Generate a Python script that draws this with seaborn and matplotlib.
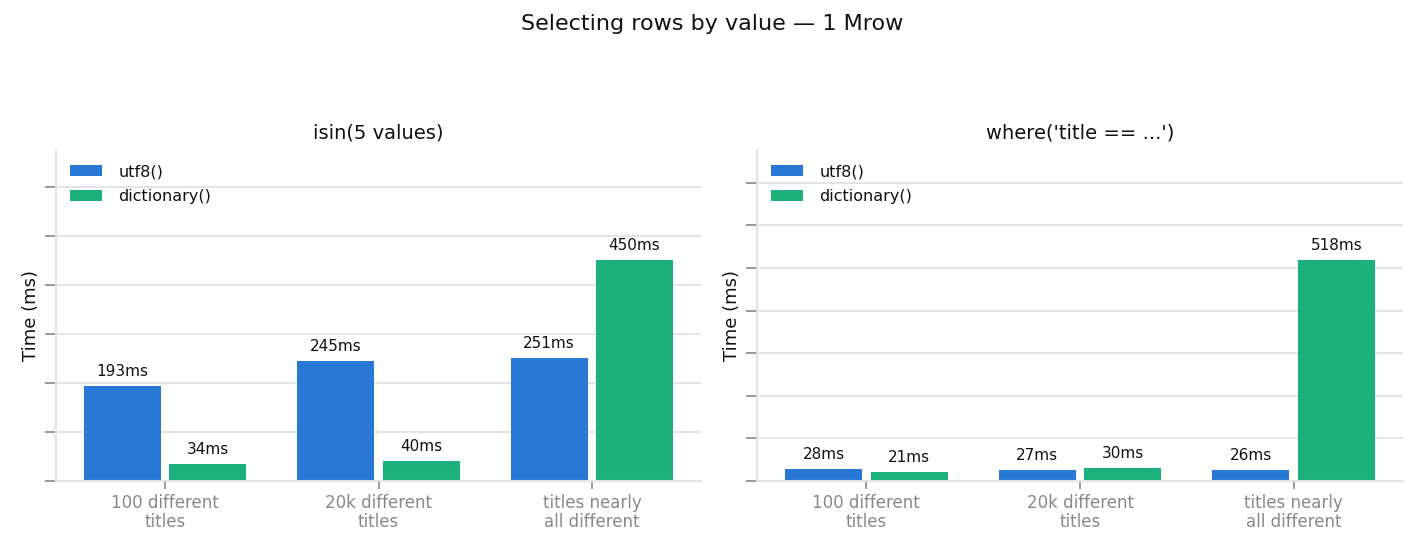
import numpy as np
import pandas as pd
import matplotlib
matplotlib.use("Agg")
import matplotlib.pyplot as plt
import seaborn as sns

# chart data
categories = ["100 different\ntitles", "20k different\ntitles", "titles nearly\nall different"]
series = ["utf8()", "dictionary()"]
isin_utf8 = [193, 245, 251]
isin_dict = [34, 40, 450]
where_utf8 = [28, 27, 26]
where_dict = [21, 30, 518]
panel_titles = ["isin(5 values)", "where('title == ...')"]

colors = {"utf8()": "#2a78d6", "dictionary()": "#1cb07a"}
grid_col = "#e2e2e0"
tick_col = "#888888"

sns.set_theme(style="white")
plt.rcParams['font.family'] = ['DejaVu Sans']
plt.rcParams['text.color'] = '#111111'
plt.rcParams['axes.labelcolor'] = '#111111'
plt.rcParams['axes.titlecolor'] = '#111111'


def make_frame(utf8_vals, dict_vals):
    rows = []
    for cat, u, d in zip(categories, utf8_vals, dict_vals):
        rows.append({"case": cat, "encoding": "utf8()", "ms": u})
        rows.append({"case": cat, "encoding": "dictionary()", "ms": d})
    return pd.DataFrame(rows)


frames = [make_frame(isin_utf8, isin_dict), make_frame(where_utf8, where_dict)]

fig = plt.figure(figsize=(14.25, 5.55), dpi=100)
ax1 = fig.add_axes([0.0393, 0.1333, 0.4527, 0.5964])
ax2 = fig.add_axes([0.5312, 0.1333, 0.4534, 0.5964])

for ax, df, title in zip([ax1, ax2], frames, panel_titles):
    sns.barplot(data=df, x="case", y="ms", hue="encoding", hue_order=series,
                order=categories, palette=colors, gap=0.1, width=0.8,
                saturation=1, linewidth=0, ax=ax, legend=True)
    top = df["ms"].max() * 1.5
    ax.set_ylim(0, top)
    ax.set_xlim(-0.512, 2.512)
    ax.set_yticks(np.arange(0, top, 100))
    ax.set_yticklabels([])
    ax.yaxis.grid(True, color=grid_col, linewidth=1.3)
    ax.set_axisbelow(True)
    for s in ["top", "right"]:
        ax.spines[s].set_visible(False)
    for s in ["left", "bottom"]:
        ax.spines[s].set_color(grid_col)
        ax.spines[s].set_linewidth(1.5)
    ax.tick_params(axis="y", left=True, length=8, width=1.2, color=tick_col)
    ax.tick_params(axis="x", bottom=True, length=6, width=1.2, color=tick_col,
                   labelcolor=tick_col, labelsize=12)
    for lbl in ax.get_xticklabels():
        lbl.set_linespacing(1.05)
    ax.set_xlabel("")
    ax.set_ylabel("Time (ms)", fontsize=13, labelpad=0)
    ax.set_title(title, fontsize=14, pad=8)

    for cont in ax.containers:
        for bar in cont:
            h = bar.get_height()
            ax.annotate(f"{h:.0f}ms", (bar.get_x() + bar.get_width() / 2, h),
                        xytext=(0, 5), textcoords="offset points",
                        ha="center", va="bottom", fontsize=11, color="#111111")

    ax.legend(loc="upper left", frameon=False, fontsize=11.5,
              handletextpad=1.0, labelspacing=0.6)

fig.suptitle("Selecting rows by value \u2014 1 Mrow", fontsize=16, y=0.975)

fig.savefig("out.png", dpi=100)
